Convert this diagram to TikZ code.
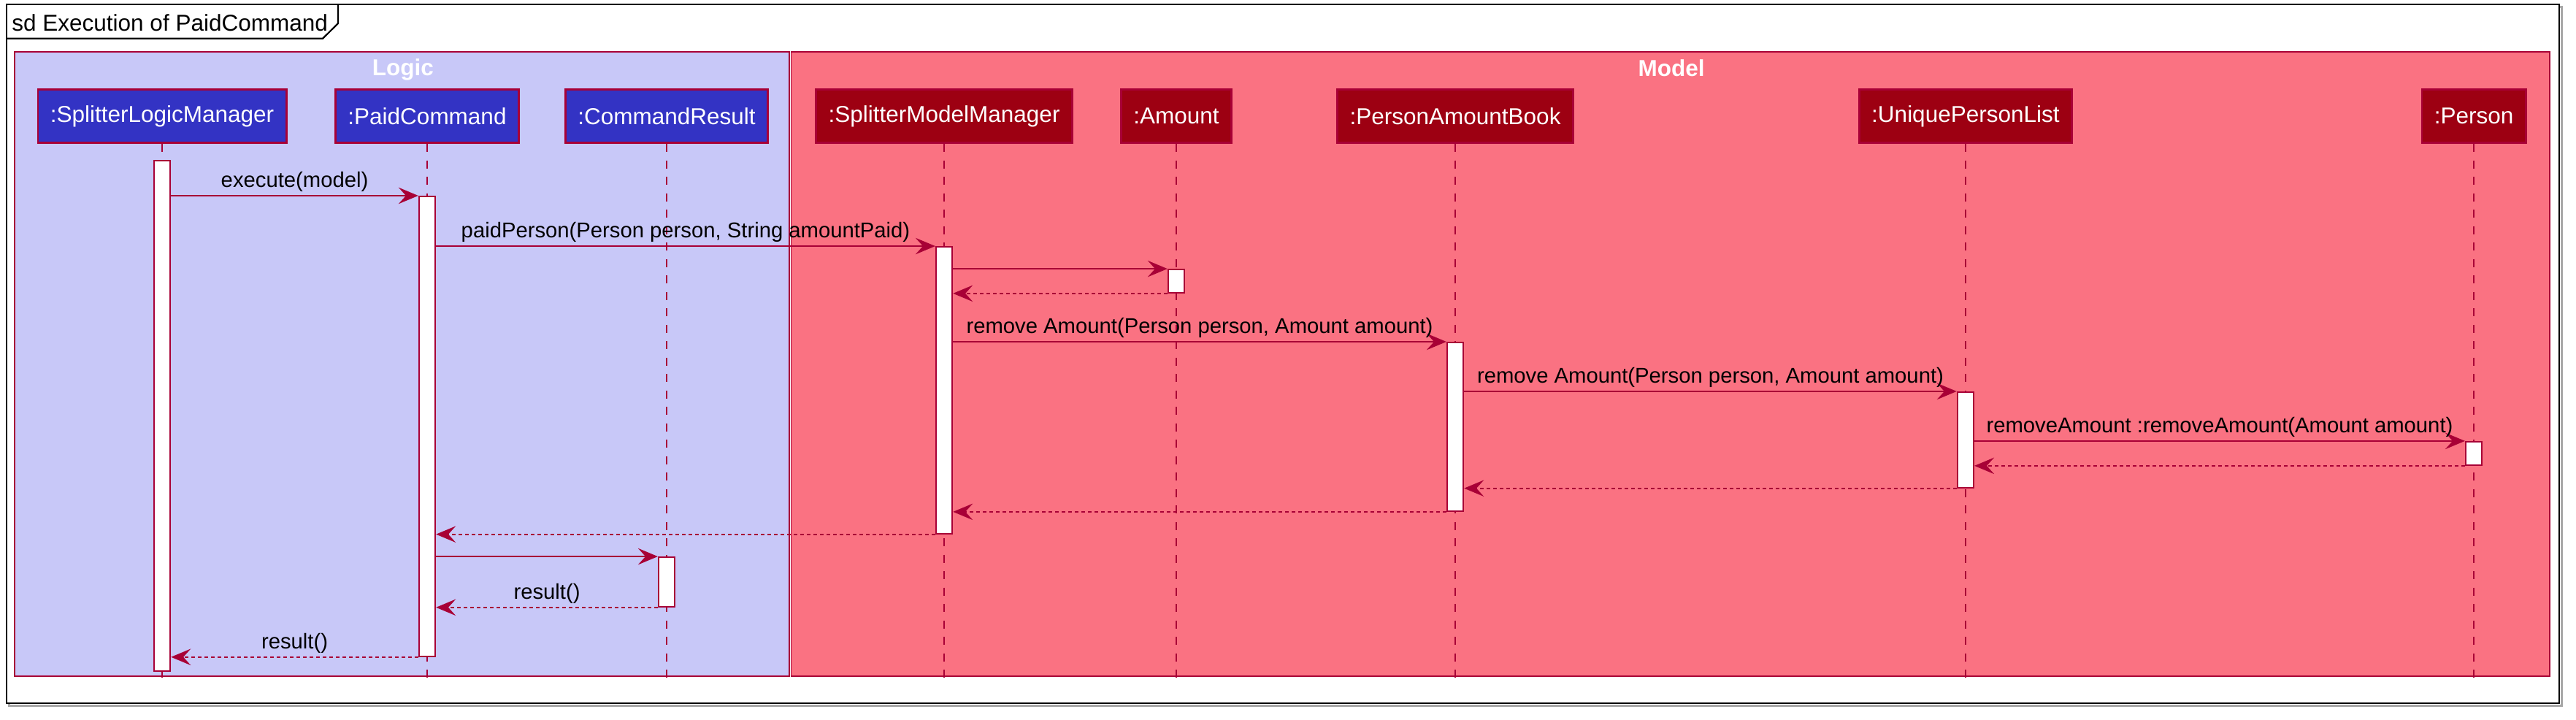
\documentclass[tikz,border=0pt]{standalone}
\usepackage{fontspec}
\setmainfont{Liberation Sans}
\usetikzlibrary{arrows.meta,positioning}

\definecolor{umlred}{HTML}{A80036}
\definecolor{logicfill}{HTML}{C8C8F8}
\definecolor{modelfill}{HTML}{FA7282}
\definecolor{logicobj}{HTML}{3333C4}
\definecolor{modelobj}{HTML}{9D0012}

\tikzset{
  obj/.style={draw=umlred, line width=1.2pt, text=white, anchor=north,
    minimum height=32.6pt, inner xsep=7.5pt, font=\fontsize{14}{16}\selectfont},
  life/.style={umlred, line width=0.8pt, dash pattern=on 5pt off 5pt},
  bar/.style={draw=umlred, fill=white, line width=0.8pt, anchor=north,
    minimum width=10pt, inner sep=0pt},
  msg/.style={umlred, line width=0.9pt, -{Stealth[length=12pt,width=10pt,inset=4.5pt]}},
  ret/.style={msg, dash pattern=on 2pt off 2pt},
  lbl/.style={text=black, font=\fontsize{13}{15}\selectfont, inner sep=2pt},
  grp/.style={text=white, font=\bfseries\fontsize{14}{16}\selectfont},
  grpbox/.style={umlred, line width=0.6pt}
}

\begin{document}
\begin{tikzpicture}[x=1pt, y=-1pt]
  \def\yobj{53.8}
  \def\yend{417}
  \useasboundingbox (0,0) rectangle (1568,438.2);

  % frame with its title tab
  \draw[gray!70, line width=1pt] (5.5,4.2) rectangle (1559.3,429.5);
  \draw[line width=1pt, fill=white] (4,2.7) rectangle (1557.8,428);
  \draw[line width=1pt] (4,23.5) -- (196.4,23.5) -- (205.8,14.2) -- (205.8,2.7);
  \node[anchor=west, inner sep=0pt, font=\fontsize{14}{16}\selectfont] (title) at (7.1,14) {sd Execution of PaidCommand};

  % boxes
  \draw[grpbox, fill=logicfill] (8.9,31.6) rectangle (480.5,411.6);
  \draw[grpbox, fill=modelfill] (481.6,31.6) rectangle (1552,411.6);
  \node[grp] (logic) at (245.3,42.2) {Logic};
  \node[grp] (model) at (1017.4,41.3) {Model};

  % participants
  \node[obj, fill=logicobj] (slm) at (98.7,\yobj) {:SplitterLogicManager};
  \node[obj, fill=logicobj] (pc) at (260,\yobj) {:PaidCommand};
  \node[obj, fill=logicobj] (cr) at (405.8,\yobj) {:CommandResult};
  \node[obj, fill=modelobj] (smm) at (574.7,\yobj) {:SplitterModelManager};
  \node[obj, fill=modelobj] (amt) at (716,\yobj) {:Amount};
  \node[obj, fill=modelobj] (pab) at (885.8,\yobj) {:PersonAmountBook};
  \node[obj, fill=modelobj] (upl) at (1196.4,\yobj) {:UniquePersonList};
  \node[obj, fill=modelobj] (per) at (1505.8,\yobj) {:Person};

  \foreach \p in {slm,pc,cr,smm,amt,pab,upl,per}
    \draw[life] (\p.south) -- (\p.south |- 0,\yend);

  % activations
  \node[bar, minimum height=310.7pt] (aslm) at (slm |- 0,97.3) {};
  \node[bar, minimum height=280pt] (apc) at (pc |- 0,119.1) {};
  \node[bar, minimum height=174.6pt] (asmm) at (smm |- 0,149.8) {};
  \node[bar, minimum height=14.2pt] (aamt) at (amt |- 0,163.6) {};
  \node[bar, minimum height=102.7pt] (apab) at (pab |- 0,208) {};
  \node[bar, minimum height=58.2pt] (aupl) at (upl |- 0,238.2) {};
  \node[bar, minimum height=14.3pt] (aper) at (per |- 0,268.4) {};
  \node[bar, minimum height=30.2pt] (acr) at (cr |- 0,338.7) {};

  % messages
  \draw[msg] (aslm.east |- apc.north) -- (apc.north west)
    node[lbl, midway, above] (m1) {execute(model)};
  \draw[msg] (apc.east |- asmm.north) -- (asmm.north west)
    node[lbl, midway, above] (m2) {paidPerson(Person person, String amountPaid)};
  \draw[msg] (asmm.east |- aamt.north) -- (aamt.north west);
  \draw[ret] (aamt.south west) -- (asmm.east |- aamt.south);
  \draw[msg] (asmm.east |- apab.north) -- (apab.north west)
    node[lbl, midway, above] (m3) {remove Amount(Person person, Amount amount)};
  \draw[msg] (apab.east |- aupl.north) -- (aupl.north west)
    node[lbl, midway, above] (m4) {remove Amount(Person person, Amount amount)};
  \draw[msg] (aupl.east |- aper.north) -- (aper.north west)
    node[lbl, midway, above] (m5) {removeAmount :removeAmount(Amount amount)};
  \draw[ret] (aper.south west) -- (aupl.east |- aper.south);
  \draw[ret] (aupl.south west) -- (apab.east |- aupl.south);
  \draw[ret] (apab.south west) -- (asmm.east |- apab.south);
  \draw[ret] (asmm.south west) -- (apc.east |- asmm.south);
  \draw[msg] (apc.east |- acr.north) -- (acr.north west);
  \draw[ret] (acr.south west) -- (apc.east |- acr.south)
    node[lbl, midway, above] (m6) {result()};
  \draw[ret] (apc.south west) -- (aslm.east |- apc.south)
    node[lbl, midway, above] (m7) {result()};
\end{tikzpicture}
\end{document}
